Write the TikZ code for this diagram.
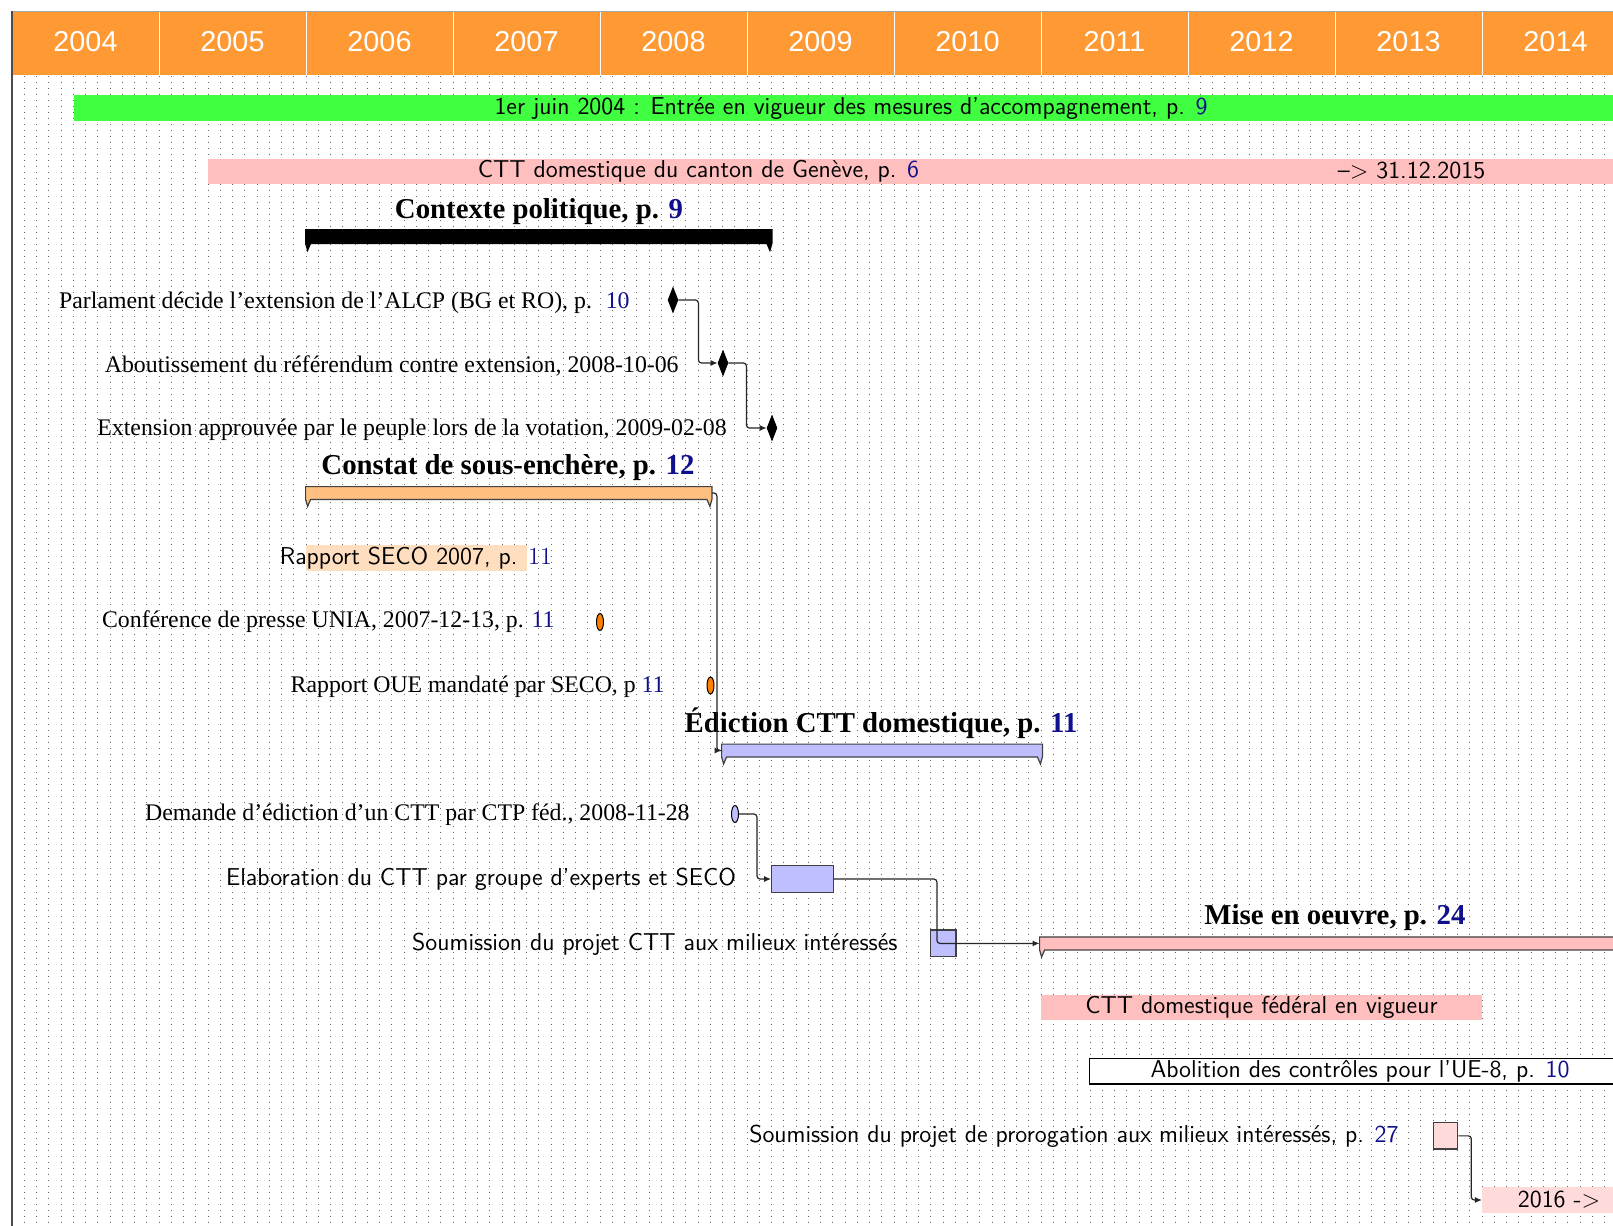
\documentclass[tikz,border=0pt]{standalone}
\usepackage{fontspec}
\usepackage{graphicx}
\newfontfamily\tms[Ligatures=TeX]{Liberation Serif}
\newfontfamily\hlv{Liberation Sans}
\usetikzlibrary{shapes.geometric,arrows.meta,calc,fit}
\definecolor{hdr}{HTML}{FF9933}
\definecolor{grn}{HTML}{40FF40}
\definecolor{pinkA}{HTML}{FFBFBF}
\definecolor{orgA}{HTML}{FFBF80}
\definecolor{peach}{HTML}{FFDEBF}
\definecolor{lilac}{HTML}{BFBFFF}
\definecolor{pinkB}{HTML}{FFDADA}
\definecolor{ovor}{HTML}{FF8000}
\definecolor{navyc}{HTML}{10108C}
\newcommand{\pg}[1]{\textcolor{navyc}{#1}}
\newcommand{\grpshape}[2]{%
  \path[#2] (#1.north west) -- (#1.north east) -- (#1.south east)
    -- ($(#1.south east)+(-2,7)$) -- ($(#1.south east)+(-5,0)$)
    -- ($(#1.south west)+(5,0)$) -- ($(#1.south west)+(2,7)$)
    -- (#1.south west) -- cycle;}
\begin{document}
\begin{tikzpicture}[x=0.5pt,y=-0.5pt,
  gridl/.style={black!60, line width=0.45pt, dash pattern=on 0.45pt off 2.55pt},
  yearlbl/.style={text=white, font=\hlv\fontsize{14.4}{16}\selectfont, inner sep=0pt},
  bar/.style={inner sep=0pt, draw=none},
  mslbl/.style={font=\tms\fontsize{11.9}{14}\selectfont, inner sep=0pt},
  sflbl/.style={font=\sffamily\fontsize{12.2}{14}\selectfont, inner sep=0pt},
  ttl/.style={font=\tms\bfseries\fontsize{14.4}{16}\selectfont, inner sep=0pt},
  diam/.style={diamond, fill=black, draw=black, inner sep=0pt, minimum width=5pt, minimum height=12.5pt},
  oval/.style={ellipse, draw=black, line width=0.5pt, inner sep=0pt, minimum width=3.5pt, minimum height=8.5pt},
  link/.style={draw=black!85, line width=0.6pt, rounded corners=1.5pt, -{Latex[length=3.5pt,width=3pt]}},
  grp/.style={draw=black!75, line width=0.6pt},
  boxb/.style={draw=black!75, line width=0.6pt, inner sep=0pt},
]
\useasboundingbox (0,0) rectangle (1613,1226);
\clip (0,0) rectangle (1613,1226);
\fill[white] (0,0) rectangle (1613,1226);

% header
\fill[hdr] (12,11) rectangle (1629,75);
\foreach \i in {1,...,10} \draw[white, line width=0.5pt] ({12+147*\i},11) -- ({12+147*\i},75);
\foreach \i [evaluate=\i as \xx using 12+147*\i+73.5, evaluate=\i as \yr using int(2004+\i)] in {0,...,10}
  \node[yearlbl] (yr\yr) at (\xx,42) {\yr};

% grid
\foreach \k in {1,...,131} \draw[gridl] ({12+12.25*\k},76) -- ({12+12.25*\k},1226);

% frame
\draw[black!35, line width=0.5pt] (12,11) -- (1629,11);
\draw[black!70, line width=0.9pt] (12,11) -- (12,1226);

% long bars
\node[bar, fill=grn, fit={(73.5,95) (1629,121)}] (green) {};
\node[sflbl] (tgreen) at (851,109) {1er juin 2004 : Entrée en vigueur des mesures d’accompagnement, p. \pg{9}};
\node[bar, fill=pinkA, fit={(208,159) (1629,184)}] (geneve) {};
\node[sflbl] (tgeneve) at (698.5,171) {CTT domestique du canton de Genève, p. \pg{6}};
\node[sflbl] (tgeneve2) at (1411.5,171) {\textendash> 31.12.2015};

% Contexte politique
\node[bar, fit={(306,230) (771.5,243)}] (gA) {};
\grpshape{gA}{fill=black, draw=black, line width=0.6pt}
\node[ttl] (tA) at (539,212) {Contexte politique, p. \pg{9}};

\node[diam] (d1) at (673,300) {};
\node[diam] (d2) at (723,363) {};
\node[diam] (d3) at (772,428) {};
\node[mslbl, anchor=east] (l1) at (630,303) {Parlament décide l’extension de l’ALCP (BG et RO), p.~ \pg{10}};
\node[mslbl, anchor=east] (l2) at (679,366) {Aboutissement du référendum contre extension, 2008-10-06};
\node[mslbl, anchor=east] (l3) at (727,430) {Extension approuvée par le peuple lors de la votation, 2009-02-08};

% Constat
\node[bar, fit={(306,487) (711.5,499)}] (gB) {};
\grpshape{gB}{fill=orgA, grp}
\node[ttl] (tB) at (508,468) {Constat de sous-enchère, p. \pg{12}};
\node[bar, fill=peach, fit={(306,545) (526.5,571)}] (seco) {};
\node[sflbl] (tseco) at (416,558) {Rapport SECO 2007, p. {\rmfamily\pg{11}}};
\node[oval, fill=ovor] (o1) at (600,622) {};
\node[mslbl, anchor=east] (l4) at (555,622) {Conférence de presse UNIA, 2007-12-13, p. \pg{11}};
\node[oval, fill=ovor] (o2) at (710.5,685.5) {};
\node[mslbl, anchor=east] (l5) at (665,687) {Rapport OUE mandaté par SECO, p \pg{11}};

% Edicion
\node[bar, fit={(722,744.5) (1042,756.5)}] (gC) {};
\grpshape{gC}{fill=lilac, grp}
\node[ttl] (tC) at (881,723) {Édiction CTT domestique, p. \pg{11}};
\node[oval, fill=lilac] (o3) at (735,814) {};
\node[mslbl, anchor=east] (l6) at (690,815) {Demande d’édiction d’un CTT par CTP féd., 2008-11-28};
\node[boxb, fill=lilac, fit={(771.7,865.7) (833.3,892.3)}] (elab) {};
\node[sflbl, anchor=east] (l7) at (736.5,879) {Elaboration du CTT par groupe d’experts et SECO};
\node[boxb, fill=lilac, fit={(930.7,930) (956,956.7)}] (soum) {};
\node[sflbl, anchor=east] (l8) at (898,944) {Soumission du projet CTT aux milieux intéressés};

% Mise en oeuvre
\node[bar, fit={(1040,937.3) (1629,949.5)}] (gD) {};
\grpshape{gD}{fill=pinkA, grp}
\node[ttl] (tD) at (1335,918) {Mise en oeuvre, p. \pg{24}};
\node[bar, fill=pinkA, fit={(1041,995) (1482,1019.5)}] (fed) {};
\node[sflbl] (tfed) at (fed.center) {CTT domestique fédéral en vigueur};
\node[boxb, fill=white, draw=black, fit={(1089.5,1058.3) (1629,1084)}] (abol) {};
\node[sflbl] (tabol) at (1360,1071) {Abolition des contrôles pour l’UE-8, p. \pg{10}};
\node[boxb, fill=pinkB, fit={(1433.3,1122.7) (1457.7,1149)}] (pro) {};
\node[sflbl, anchor=east] (l9) at (1399,1136) {Soumission du projet de prorogation aux milieux intéressés, p. \pg{27}};
\node[bar, fill=pinkB, fit={(1482.3,1187.3) (1629,1212.7)}] (b2016) {};
\node[sflbl] (t2016) at (1559,1200) {2016 ->};

% links
\draw[link] (d1.east) -- ++(20,0) |- (d2.west);
\draw[link] (d2.east) -- ++(18,0) |- (d3.west);
\draw[link] (gB.east) -- ++(5,0) |- (gC.west);
\draw[link] (o3.east) -- ++(18,0) |- (elab.west);
\draw[link] (elab.east) -- ++(103,0) |- (gD.west);
\draw[link] (pro.east) -- ++(13,0) |- (b2016.west);
\end{tikzpicture}
\end{document}
